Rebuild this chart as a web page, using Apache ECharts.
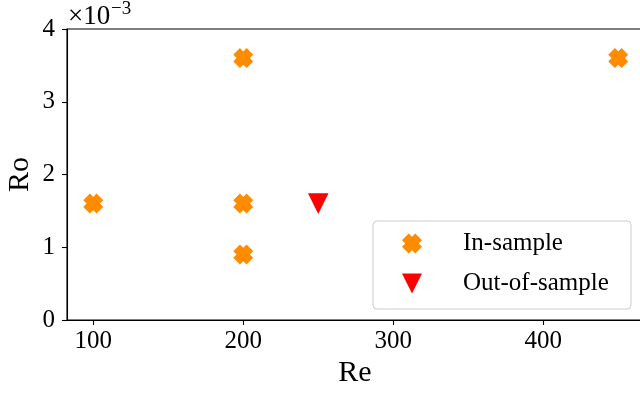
<!DOCTYPE html>
<html>
<head>
<meta charset="utf-8">
<script src="https://cdn.jsdelivr.net/npm/echarts@6/dist/echarts.min.js"></script>
<style>
html,body{margin:0;padding:0;background:#fff;}
#chart{width:640px;height:394px;}
</style>
</head>
<body>
<div id="chart"></div>
<script>
// Data (Ro in absolute units; axis shows x10^-3)
const inSampleRe = [100, 200, 200, 200, 450];
const inSampleRo = [0.0016, 0.0036, 0.0016, 0.0009, 0.0036];
const outSampleRe = [250];
const outSampleRo = [0.0016];
const xTicks = [100, 200, 300, 400];
const yTicks = [0, 0.001, 0.002, 0.003, 0.004];
const seriesNames = ['In-sample', 'Out-of-sample'];

const FONT = 'Liberation Serif';
const X_PATH = 'path://M2,0L0,2L1,3L0,4L2,6L3,5L4,6L6,4L5,3L6,2L4,0L3,1Z';
const TRI_PATH = 'path://M0,0L2,0L1,2Z';

const chart = echarts.init(document.getElementById('chart'), null, {renderer: 'canvas'});
const option = {
  animation: false,
  backgroundColor: '#fff',
  textStyle: {fontFamily: FONT, color: '#000'},
  grid: {left: 67, right: -3, top: 29, bottom: 74, show: true, borderColor: '#000', borderWidth: 1.1,
    backgroundColor: 'transparent', containLabel: false, outerBoundsMode: 'none'},
  xAxis: {
    type: 'value', min: 82.5, max: 82.5 + 576 / 1.5,
    name: 'Re', nameLocation: 'middle', nameGap: 38, nameMoveOverlap: false,
    nameTextStyle: {fontFamily: FONT, fontSize: 30, color: '#000'},
    axisLine: {show: true, onZero: false, lineStyle: {color: '#000', width: 1.1}},
    axisTick: {show: true, length: 5, inside: false, customValues: xTicks, lineStyle: {color: '#000', width: 1.1}},
    axisLabel: {show: true, margin: 9, customValues: xTicks, fontFamily: FONT, fontSize: 25, color: '#000'},
    splitLine: {show: false}
  },
  yAxis: {
    type: 'value', min: 0, max: 0.004, interval: 0.001,
    name: 'Ro', nameLocation: 'middle', nameGap: 32, nameRotate: 90, nameMoveOverlap: false,
    nameTextStyle: {fontFamily: FONT, fontSize: 30, color: '#000'},
    axisLine: {show: true, onZero: false, lineStyle: {color: '#000', width: 1.1}},
    axisTick: {show: true, length: 5, inside: false, lineStyle: {color: '#000', width: 1.1}},
    axisLabel: {show: true, margin: 12, fontFamily: FONT, fontSize: 25, color: '#000',
      formatter: v => String(Math.round(v * 1000))},
    splitLine: {show: false}
  },
  legend: {
    orient: 'vertical', left: 373, top: 221,
    padding: [10, 11, 13, 29],
    itemWidth: 20, itemHeight: 20, itemGap: 15,
    backgroundColor: 'rgba(255,255,255,0.8)', borderColor: '#cccccc', borderWidth: 1, borderRadius: 4,
    data: seriesNames,
    formatter: n => '{s|}{t|' + n + '}',
    textStyle: {fontFamily: FONT, fontSize: 25, color: '#000', lineHeight: 24,
      rich: {s: {width: 36}, t: {width: 157, fontFamily: FONT, fontSize: 25, color: '#000', lineHeight: 24}}}
  },
  graphic: [
    {type: 'text', left: 68, top: 3, style: {text: '×10', font: '27px "Liberation Serif"', fill: '#000'}},
    {type: 'text', left: 111, top: 0, style: {text: '−3', font: '19px "Liberation Serif"', fill: '#000'}}
  ],
  series: [
    {name: seriesNames[0], type: 'scatter', symbol: X_PATH, symbolSize: 20,
      itemStyle: {color: '#ff8c00', opacity: 1},
      data: inSampleRe.map((x, i) => [x, inSampleRo[i]])},
    {name: seriesNames[1], type: 'scatter', symbol: TRI_PATH, symbolSize: 20.6,
      itemStyle: {color: '#ff0000', opacity: 1},
      data: outSampleRe.map((x, i) => [x, outSampleRo[i]])}
  ]
};
chart.setOption(option);
</script>
</body>
</html>
